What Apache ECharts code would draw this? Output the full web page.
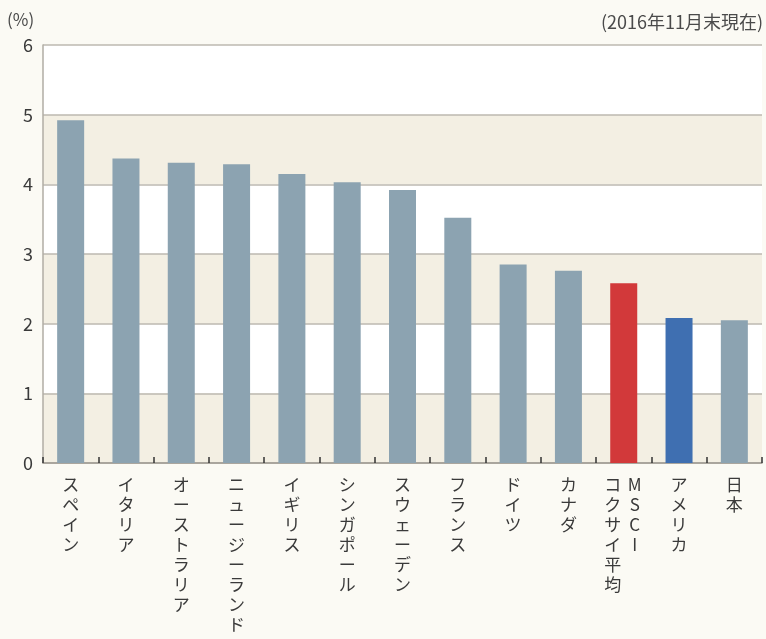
<!DOCTYPE html>
<html>
<head>
<meta charset="utf-8">
<script src="https://cdn.jsdelivr.net/npm/echarts@6/dist/echarts.min.js"></script>
<style>
html,body{margin:0;padding:0;background:#fbfaf4;}
#c{width:766px;height:639px;}
</style>
</head>
<body>
<div id="c"></div>
<script>
var categories = ["スペイン","イタリア","オーストラリア","ニュージーランド","イギリス","シンガポール","スウェーデン","フランス","ドイツ","カナダ","MSCIコクサイ平均","アメリカ","日本"];
var values = [4.92, 4.37, 4.31, 4.29, 4.15, 4.03, 3.92, 3.52, 2.85, 2.76, 2.58, 2.08, 2.05];
var barColors = ["#8ca3b1","#8ca3b1","#8ca3b1","#8ca3b1","#8ca3b1","#8ca3b1","#8ca3b1","#8ca3b1","#8ca3b1","#8ca3b1","#d2393a","#3f6fb1","#8ca3b1"];
var yTicks = [0, 1, 2, 3, 4, 5, 6];
var unitLabel = "(%)";
var dateNote = "(2016年11月末現在)";

var FONT = "'Noto Sans CJK JP', 'Noto Sans', sans-serif";

function vertical(name) {
  if (name === "MSCIコクサイ平均") {
    var right = "MSCI".split("");
    var left = "コクサイ平均".split("");
    var rows = [];
    for (var i = 0; i < left.length; i++) {
      rows.push("{l|" + left[i] + "}{r|" + (right[i] || " ") + "}");
    }
    return rows.join("\n");
  }
  return name.split("").map(function (ch) { return "{c|" + ch + "}"; }).join("\n");
}

var chart = echarts.init(document.getElementById("c"));
chart.setOption({
  backgroundColor: "#fbfaf4",
  animation: false,
  textStyle: { fontFamily: FONT },
  graphic: [
    { type: "text", left: 7, top: 11, style: { text: unitLabel, font: "17px " + FONT, fill: "#4a4a4a" } },
    { type: "text", right: 3, top: 13, style: { text: dateNote, font: "18px " + FONT, fill: "#4a4a4a", textAlign: "right" } }
  ],
  grid: { left: 43, right: 4, top: 45, bottom: 176, containLabel: false },
  xAxis: {
    type: "category",
    data: categories,
    axisLine: { show: true, lineStyle: { color: "#9e9a92", width: 1.5 } },
    axisTick: { show: true, inside: true, length: 6, lineStyle: { color: "#333", width: 1.5 } },
    axisLabel: {
      interval: 0,
      margin: 12,
      color: "#3a3a3a",
      fontFamily: FONT,
      formatter: function (v) { return vertical(v); },
      rich: {
        c: { fontSize: 17, lineHeight: 20, width: 22, align: "center", color: "#3a3a3a", fontFamily: FONT },
        l: { fontSize: 17, lineHeight: 20, width: 22, align: "center", color: "#3a3a3a", fontFamily: FONT },
        r: { fontSize: 17, lineHeight: 20, width: 22, align: "center", color: "#3a3a3a", fontFamily: FONT }
      }
    }
  },
  yAxis: {
    type: "value",
    min: yTicks[0],
    max: yTicks[yTicks.length - 1],
    interval: 1,
    axisLine: { show: true, lineStyle: { color: "#b0aca4", width: 1.5 } },
    axisTick: { show: false },
    axisLabel: { color: "#3a3a3a", fontSize: 18, margin: 10, fontFamily: FONT },
    splitLine: { show: true, lineStyle: { color: "#bdb9b0", width: 1.5 } },
    splitArea: { show: true, areaStyle: { color: ["#f3efe3", "#ffffff"] } }
  },
  series: [{
    type: "bar",
    data: values.map(function (v, i) { return { value: v, itemStyle: { color: barColors[i] } }; }),
    barWidth: 27
  }]
});
</script>
</body>
</html>
